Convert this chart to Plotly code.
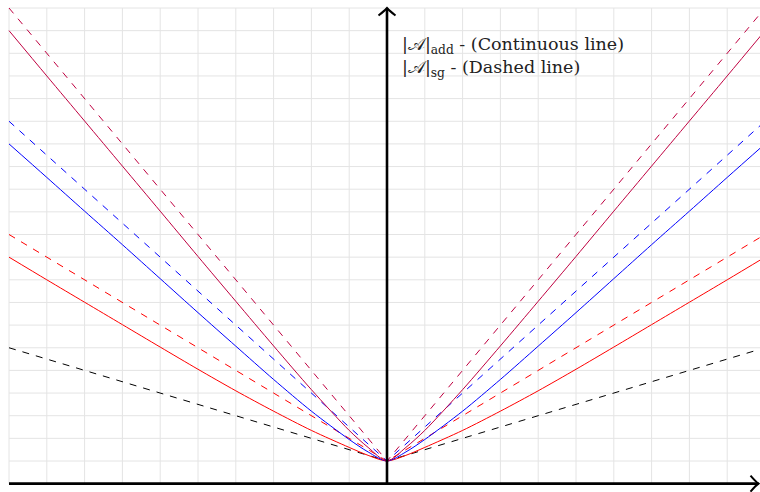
import plotly.graph_objects as go

# ---- data ----
x_dashed = [-10, 0, 10]
black_dashed = [6.0, 1.0, 6.0]
red_dashed = [11.0, 1.0, 11.0]
blue_dashed = [16.0, 1.0, 16.0]
purple_dashed = [21.0, 1.0, 21.0]

x_solid = [-10, -9, -8, -7, -6, -5, -4, -3, -2, -1, -0.5, 0,
           0.5, 1, 2, 3, 4, 5, 6, 7, 8, 9, 10]
red_solid = [10.0, 9.0, 8.01, 7.02, 6.03, 5.05, 4.1, 3.2, 2.35, 1.6, 1.25, 1.0,
             1.25, 1.6, 2.35, 3.2, 4.1, 5.05, 6.03, 7.02, 8.01, 9.0, 10.0]
blue_solid = [15.0, 13.52, 12.03, 10.55, 9.05, 7.55, 6.07, 4.6, 3.2, 1.95, 1.4, 1.0,
              1.4, 1.95, 3.2, 4.6, 6.07, 7.55, 9.05, 10.55, 12.03, 13.52, 15.0]
purple_solid = [20.0, 18.0, 16.01, 14.02, 12.03, 10.03, 8.05, 6.08, 4.15, 2.35, 1.6, 1.0,
                1.6, 2.35, 4.15, 6.08, 8.05, 10.03, 12.03, 14.02, 16.01, 18.0, 20.0]

legend_lines = ["|𝒜|<sub>add</sub> - (Continuous line)",
                "|𝒜|<sub>sg</sub> - (Dashed line)"]

grid_x = list(range(-10, 11))
grid_y = list(range(0, 22))

# ---- styling ----
W, H = 760, 492
PX_X = 37.8      # px per x unit
PX_Y = 22.65     # px per y unit
X0_PX = 387.0
Y0_PX = 483.65
xr = [(0 - X0_PX) / PX_X, (W - X0_PX) / PX_X]
yr = [(Y0_PX - H) / PX_Y, Y0_PX / PX_Y]

RED = "rgb(255,0,0)"
BLUE = "rgb(0,0,255)"
PURPLE = "rgb(191,0,64)"
DASH = "7px,7px"

fig = go.Figure()

def add(xs, ys, color, dash):
    fig.add_trace(go.Scatter(x=xs, y=ys, mode="lines",
                             line=dict(color=color, width=1, dash=dash,
                                       shape="spline" if dash == "solid" else "linear",
                                       smoothing=0.8),
                             hoverinfo="skip", showlegend=False))

add(x_dashed, black_dashed, "black", DASH)
add(x_solid, red_solid, RED, "solid")
add(x_dashed, red_dashed, RED, DASH)
add(x_solid, blue_solid, BLUE, "solid")
add(x_dashed, blue_dashed, BLUE, DASH)
add(x_solid, purple_solid, PURPLE, "solid")
add(x_dashed, purple_dashed, PURPLE, DASH)

shapes = []
gcol = "rgb(228,228,228)"
for gx in grid_x:
    shapes.append(dict(type="line", xref="x", yref="y", x0=gx, x1=gx,
                       y0=grid_y[0], y1=grid_y[-1], layer="below",
                       line=dict(color=gcol, width=1)))
for gy in grid_y:
    shapes.append(dict(type="line", xref="x", yref="y", x0=grid_x[0], x1=grid_x[-1],
                       y0=gy, y1=gy, layer="below",
                       line=dict(color=gcol, width=1)))

# axes with open arrow tips
x_tip = (758.5 - X0_PX) / PX_X
y_tip = (Y0_PX - 8.0) / PX_Y
shapes.append(dict(type="line", xref="x", yref="y", x0=grid_x[0], x1=x_tip,
                   y0=0, y1=0, line=dict(color="black", width=2.6)))
shapes.append(dict(type="line", xref="x", yref="y", x0=0, x1=0,
                   y0=0, y1=y_tip, line=dict(color="black", width=2.6)))
ax_dx = 8 / PX_X
ax_dy = 8 / PX_Y
shapes.append(dict(type="path", xref="x", yref="y",
                   path=f"M {x_tip-ax_dx},{ax_dy} Q {x_tip-ax_dx*0.35},{ax_dy*0.25} {x_tip},0 "
                        f"Q {x_tip-ax_dx*0.35},{-ax_dy*0.25} {x_tip-ax_dx},{-ax_dy}",
                   line=dict(color="black", width=2)))
ay_dx = 8.5 / PX_X
ay_dy = 7.5 / PX_Y
shapes.append(dict(type="path", xref="x", yref="y",
                   path=f"M {-ay_dx},{y_tip-ay_dy} Q {-ay_dx*0.25},{y_tip-ay_dy*0.35} 0,{y_tip} "
                        f"Q {ay_dx*0.25},{y_tip-ay_dy*0.35} {ay_dx},{y_tip-ay_dy}",
                   line=dict(color="black", width=2)))

annotations = []
for i, txt in enumerate(legend_lines):
    py = 45 + 23 * i
    annotations.append(dict(x=(401 - X0_PX) / PX_X, y=(Y0_PX - py) / PX_Y,
                            xref="x", yref="y", text=txt, showarrow=False,
                            xanchor="left", yanchor="middle", xshift=-1,
                            font=dict(family="DejaVu Serif", size=17.5, color="#222")))

fig.update_layout(
    width=W, height=H, margin=dict(l=0, r=0, t=0, b=0),
    paper_bgcolor="white", plot_bgcolor="white",
    xaxis=dict(range=xr, visible=False, showgrid=False, zeroline=False, fixedrange=True),
    yaxis=dict(range=yr, visible=False, showgrid=False, zeroline=False, fixedrange=True),
    shapes=shapes, annotations=annotations, showlegend=False,
)

fig.write_html("out.html", config={"displayModeBar": False},
               post_script="document.body.style.margin='0';document.body.style.overflow='hidden';")
